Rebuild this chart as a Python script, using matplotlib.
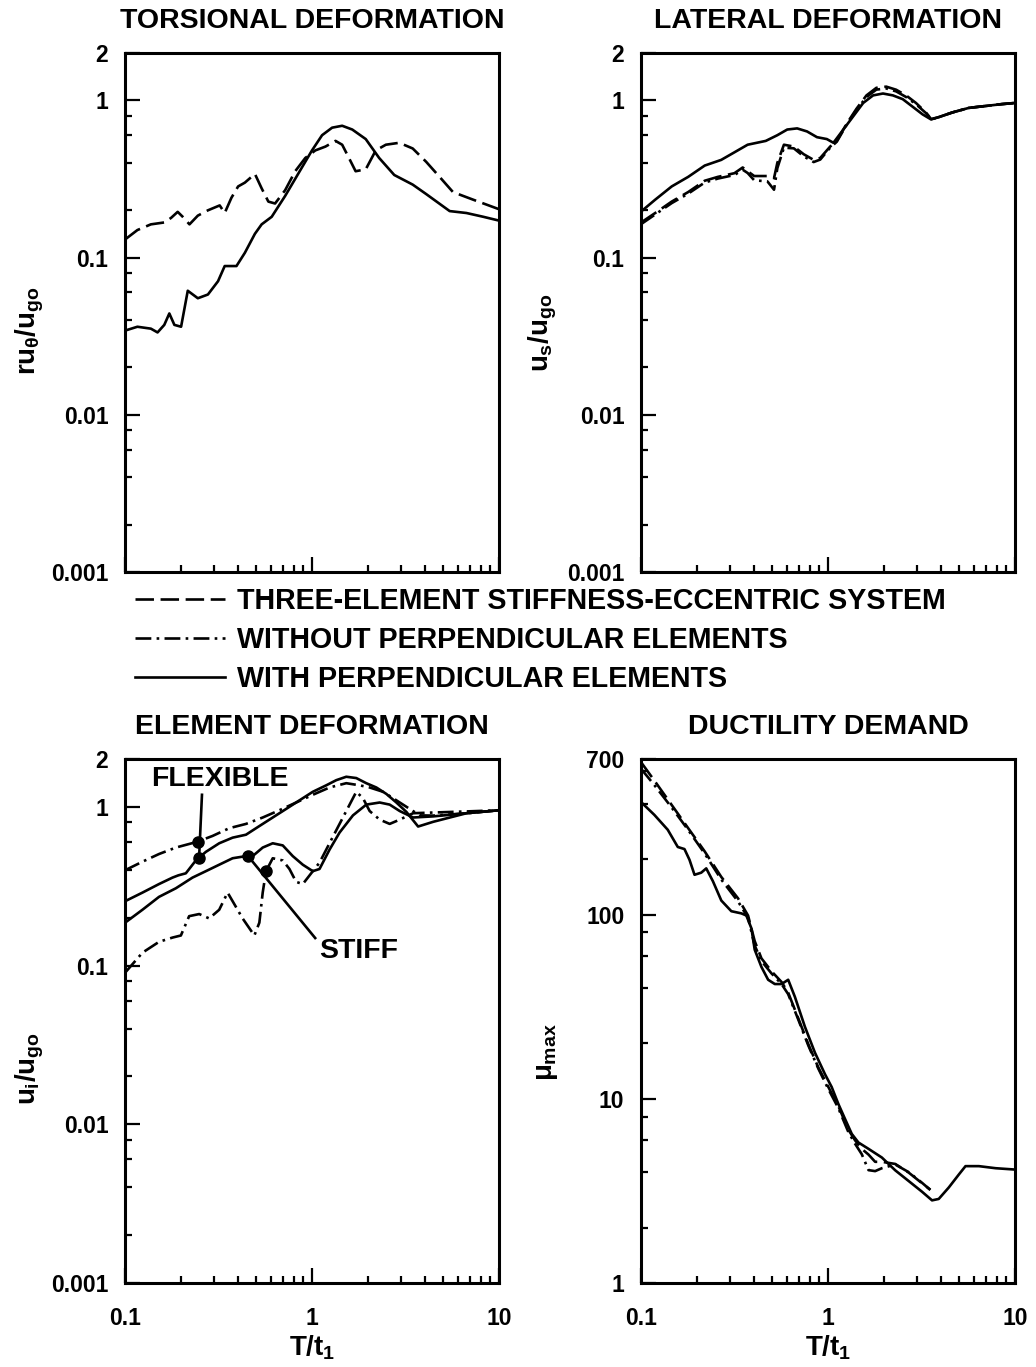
import numpy as np
import matplotlib
matplotlib.use("Agg")
import matplotlib.pyplot as plt
from matplotlib.ticker import FixedLocator, FixedFormatter, NullFormatter

# ---------------- data ----------------
# Torsional deformation
tl_solid_T = [0.1, 0.1165, 0.1375, 0.1493, 0.1622, 0.1726, 0.1837, 0.1995, 0.2166, 0.2452,
              0.2776, 0.3144, 0.3413, 0.3945, 0.4375, 0.4951, 0.5379, 0.609, 0.7184, 0.8476,
              1.0, 1.132, 1.281, 1.450, 1.642, 1.938, 2.286, 2.754, 3.456, 4.077,
              5.447, 6.697, 8.234, 10.0]
tl_solid_v = [0.0343, 0.0363, 0.0353, 0.0334, 0.0373, 0.0441, 0.0373, 0.0363, 0.0615, 0.0551,
              0.0582, 0.0707, 0.0883, 0.0883, 0.1072, 0.1416, 0.1626, 0.1817, 0.2466, 0.3443,
              0.4803, 0.600, 0.670, 0.689, 0.652, 0.567, 0.430, 0.335, 0.291, 0.2535,
              0.1975, 0.192, 0.1817, 0.1718]
tl_dash_T = [0.1, 0.1165, 0.1375, 0.1622, 0.1763, 0.1913, 0.2035, 0.2212, 0.2452, 0.2776,
             0.3209, 0.3413, 0.3707, 0.4027, 0.4375, 0.4951, 0.5379, 0.5843, 0.6346, 0.7184,
             0.813, 0.921, 1.042, 1.18, 1.336, 1.450, 1.576, 1.711, 1.938, 2.193,
             2.483, 2.929, 3.456, 4.077, 4.811, 5.675, 7.273, 10.0]
tl_dash_v = [0.1302, 0.1496, 0.1626, 0.1672, 0.1787, 0.1953, 0.1817, 0.1626, 0.1848, 0.1997,
             0.2146, 0.192, 0.2399, 0.2834, 0.2996, 0.3404, 0.2756, 0.2269, 0.2207, 0.2681,
             0.354, 0.430, 0.4803, 0.508, 0.552, 0.522, 0.430, 0.354, 0.364, 0.4803,
             0.522, 0.537, 0.494, 0.4066, 0.326, 0.2608, 0.2334, 0.203]

# Lateral deformation
tr_solid_T = [0.1, 0.1191, 0.146, 0.1788, 0.2191, 0.2685, 0.3159, 0.3717, 0.4648, 0.5358,
              0.6053, 0.6838, 0.7726, 0.8729, 0.9858, 1.0693, 1.208, 1.365, 1.542, 1.742,
              1.968, 2.223, 2.511, 2.837, 3.205, 3.547, 3.926, 4.62, 5.66, 6.94, 8.5, 10.0]
tr_solid_v = [0.196, 0.2334, 0.2834, 0.326, 0.3846, 0.418, 0.467, 0.522, 0.552, 0.600,
              0.652, 0.663, 0.634, 0.583, 0.567, 0.537, 0.652, 0.792, 0.962, 1.075,
              1.105, 1.075, 1.017, 0.910, 0.814, 0.7575, 0.783, 0.837, 0.895, 0.920, 0.946, 0.962]
tr_other_T = [0.1, 0.1191, 0.146, 0.1788, 0.2191, 0.2578, 0.3159, 0.3498, 0.3717, 0.4032,
              0.4744, 0.5145, 0.5358, 0.5811, 0.6566, 0.7418, 0.8381, 0.909, 1.027, 1.114,
              1.258, 1.421, 1.606, 1.814, 2.049, 2.314, 2.615, 2.954, 3.338, 3.57,
              3.926, 4.62, 5.66, 6.94, 8.5, 10.0]
tr_dash_v = [0.167, 0.192, 0.227, 0.261, 0.308, 0.326, 0.344, 0.374, 0.354, 0.33,
             0.33, 0.32, 0.40, 0.522, 0.508, 0.454, 0.418, 0.43, 0.508, 0.552,
             0.709, 0.885, 1.075, 1.201, 1.222, 1.168, 1.075, 0.962, 0.837, 0.7575,
             0.783, 0.837, 0.895, 0.920, 0.946, 0.962]
tr_dashdot_v = [0.163, 0.188, 0.222, 0.255, 0.300, 0.318, 0.335, 0.362, 0.345, 0.31,
                0.305, 0.27, 0.37, 0.50, 0.495, 0.44, 0.405, 0.42, 0.50, 0.545,
                0.70, 0.87, 1.05, 1.17, 1.19, 1.14, 1.05, 0.945, 0.83, 0.7575,
                0.783, 0.837, 0.895, 0.920, 0.946, 0.962]

# Element deformation (flexible / stiff element)
bl_flex_solid_T = [0.1, 0.124, 0.152, 0.1795, 0.193, 0.2115, 0.2392, 0.2707, 0.319, 0.3762,
                   0.4436, 0.523, 0.6166, 0.727, 0.857, 1.01, 1.191, 1.348, 1.525, 1.725,
                   1.951, 2.208, 2.498, 2.827, 3.198, 3.694, 4.445, 5.461, 6.71, 10.0]
bl_flex_solid_v = [0.254, 0.288, 0.326, 0.358, 0.37, 0.381, 0.459, 0.52, 0.589, 0.639,
                   0.667, 0.756, 0.856, 0.969, 1.098, 1.243, 1.365, 1.471, 1.546, 1.517,
                   1.408, 1.323, 1.205, 1.064, 0.928, 0.751, 0.804, 0.856, 0.911, 0.951]
bl_flex_dashdot_T = [0.1, 0.124, 0.152, 0.187, 0.2412, 0.2938, 0.361, 0.4436, 0.545, 0.669,
                     0.8225, 1.01, 1.241, 1.525, 1.798, 2.034, 2.398, 2.827, 3.333, 3.771,
                     4.445, 6.71, 10.0]
bl_flex_dashdot_v = [0.398, 0.451, 0.504, 0.5535, 0.6, 0.655, 0.733, 0.78, 0.856, 0.951,
                     1.064, 1.19, 1.323, 1.408, 1.365, 1.323, 1.243, 1.098, 0.969, 0.883,
                     0.88, 0.91, 0.951]
bl_stiff_solid_T = [0.1, 0.124, 0.152, 0.187, 0.2296, 0.2707, 0.319, 0.3762, 0.4436, 0.4816,
                    0.545, 0.6166, 0.6977, 0.789, 0.893, 1.01, 1.097, 1.241, 1.404, 1.656,
                    1.951, 2.301, 2.603, 2.946, 3.473, 4.445, 6.71, 10.0]
bl_stiff_solid_v = [0.186, 0.2246, 0.2707, 0.3066, 0.358, 0.393, 0.4316, 0.474, 0.489, 0.489,
                    0.5535, 0.589, 0.571, 0.489, 0.4316, 0.393, 0.4057, 0.537, 0.688, 0.883,
                    1.032, 1.064, 1.032, 0.94, 0.856, 0.87, 0.911, 0.951]
bl_stiff_dashdot_T = [0.1, 0.124, 0.152, 0.1795, 0.199, 0.2203, 0.2493, 0.282, 0.319, 0.3537,
                      0.3762, 0.4256, 0.4917, 0.523, 0.545, 0.5677, 0.6166, 0.6977, 0.7575, 0.8225,
                      0.893, 0.99, 1.097, 1.293, 1.525, 1.725, 1.873, 2.034, 2.301, 2.603,
                      2.946, 3.473, 4.445, 6.71, 10.0]
bl_stiff_dashdot_v = [0.09, 0.1205, 0.141, 0.15, 0.1546, 0.2046, 0.211, 0.198, 0.2245, 0.288,
                      0.2543, 0.198, 0.1546, 0.1863, 0.288, 0.393, 0.474, 0.459, 0.4057, 0.3365,
                      0.326, 0.381, 0.445, 0.647, 0.94, 1.243, 1.133, 0.94, 0.83, 0.78,
                      0.83, 0.911, 0.92, 0.935, 0.951]

# Ductility demand
br_solid_T = [0.1, 0.1179, 0.139, 0.1573, 0.1708, 0.1817, 0.1933, 0.2099, 0.2233, 0.2424,
              0.2688, 0.3041, 0.3441, 0.366, 0.3894, 0.4056, 0.4406, 0.4785, 0.5195, 0.5643,
              0.6125, 0.6651, 0.7527, 0.8516, 0.9636, 1.046, 1.136, 1.233, 1.340, 1.455,
              1.647, 1.941, 2.289, 2.698, 3.183, 3.601, 3.909, 4.424, 5.006, 5.436,
              6.411, 7.875, 10.0]
br_solid_v = [409, 348, 289, 233, 227, 198.5, 164.6, 169, 178.3, 151.9,
              119.3, 104.4, 101.6, 98.9, 84.3, 64.5, 52.0, 44.3, 42.0, 42.0,
              44.3, 35.8, 24.6, 17.8, 13.6, 11.6, 9.38, 7.78, 6.45, 5.79,
              5.35, 4.80, 4.09, 3.58, 3.13, 2.81, 2.86, 3.30, 3.88, 4.31,
              4.31, 4.20, 4.13]
br_other_T = [0.1, 0.1179, 0.1449, 0.178, 0.2188, 0.2688, 0.3303, 0.3737, 0.4056, 0.4406,
              0.4985, 0.5643, 0.6125, 0.693, 0.7844, 0.8875, 1.004, 1.136, 1.285, 1.396,
              1.516, 1.647, 1.787, 1.941, 2.289, 2.698, 3.183, 3.527]
br_dash_v = [673, 534.5, 398, 296.6, 220.9, 160.2, 122.6, 98.9, 71.8, 57.9,
             49.3, 43.1, 37.7, 27.4, 19.8, 14.8, 11.6, 9.13, 6.80, 5.95,
             5.35, 4.98, 4.55, 4.55, 4.43, 3.98, 3.48, 3.21]
br_dashdot_v = [620, 505, 385, 290, 215, 155, 118, 96, 68, 56,
                48, 42, 37, 27, 19.5, 14.6, 11.3, 8.9, 6.6, 5.7,
                5.0, 4.1, 4.05, 4.2, 4.4, 4.0, 3.5, 3.2]

x_ticks = [0.1, 1, 10]
x_tick_labels = ["0.1", "1", "10"]
disp_ticks = [0.001, 0.01, 0.1, 1, 2]
disp_tick_labels = ["0.001", "0.01", "0.1", "1", "2"]
duct_ticks = [1, 10, 100, 700]
duct_tick_labels = ["1", "10", "100", "700"]

legend_labels = ["THREE-ELEMENT STIFFNESS-ECCENTRIC SYSTEM",
                 "WITHOUT PERPENDICULAR ELEMENTS",
                 "WITH PERPENDICULAR ELEMENTS"]
titles = ["TORSIONAL DEFORMATION", "LATERAL DEFORMATION",
          "ELEMENT DEFORMATION", "DUCTILITY DEMAND"]

# ---------------- styling ----------------
plt.rcParams["font.family"] = ["Liberation Sans", "DejaVu Sans"]
plt.rcParams["font.weight"] = "bold"
plt.rcParams["mathtext.fontset"] = "custom"
plt.rcParams["mathtext.rm"] = "Liberation Sans:bold"
plt.rcParams["mathtext.it"] = "Liberation Sans:bold"
plt.rcParams["mathtext.bf"] = "Liberation Sans:bold"
plt.rcParams["mathtext.sf"] = "Liberation Sans:bold"

LW = 1.9
DASH = (0, (7, 2.5))
DASHDOT = (0, (6, 2, 1, 2))
INK = "black"
TITLE_SIZE = 20.5
LABEL_SIZE = 20

W, H = 1036, 1367
fig = plt.figure(figsize=(W / 100, H / 100), dpi=100)


def box(l, t, r, b):
    return [l / W, 1 - b / H, (r - l) / W, (b - t) / H]


ax_tl = fig.add_axes(box(125, 53, 499, 572))
ax_tr = fig.add_axes(box(641, 53, 1015, 572))
ax_bl = fig.add_axes(box(125, 759, 499, 1283))
ax_br = fig.add_axes(box(641, 759, 1015, 1283))


def style_axis(ax, ylim, yticks, ylabels, show_x):
    ax.set_xscale("log")
    ax.set_yscale("log")
    ax.set_xlim(0.1, 10)
    ax.set_ylim(*ylim)
    ax.xaxis.set_major_locator(FixedLocator(x_ticks))
    ax.xaxis.set_minor_locator(FixedLocator([m * d for d in (0.1, 1) for m in range(2, 10)]))
    if show_x:
        ax.xaxis.set_major_formatter(FixedFormatter(x_tick_labels))
    else:
        ax.xaxis.set_major_formatter(NullFormatter())
    ax.xaxis.set_minor_formatter(NullFormatter())
    ax.yaxis.set_major_locator(FixedLocator(yticks))
    ax.yaxis.set_major_formatter(FixedFormatter(ylabels))
    decades = [10.0 ** k for k in range(-3, 3)]
    minors = [m * d for d in decades for m in (2, 4, 6, 8) if ylim[0] < m * d < ylim[1]]
    ax.yaxis.set_minor_locator(FixedLocator(minors))
    ax.yaxis.set_minor_formatter(NullFormatter())
    ax.tick_params(which="both", direction="in", top=False, right=False,
                   width=1.6, colors=INK, labelsize=16.5)
    ax.tick_params(which="major", length=11)
    ax.tick_params(which="minor", length=5)
    ax.tick_params(axis="y", pad=12)
    ax.tick_params(axis="x", pad=17)
    for s in ax.spines.values():
        s.set_linewidth(2.2)
        s.set_color(INK)
    for lab in ax.get_xticklabels() + ax.get_yticklabels():
        lab.set_fontweight("bold")


def add_title(ax, text):
    ax.annotate(text, xy=(0.5, 1.0), xycoords="axes fraction",
                xytext=(0, 32), textcoords="offset pixels",
                ha="center", va="center", fontsize=TITLE_SIZE, fontweight="bold")


# Torsional deformation
ax_tl.plot(tl_dash_T, tl_dash_v, color=INK, lw=LW, linestyle=DASH)
ax_tl.plot(tl_solid_T, tl_solid_v, color=INK, lw=LW)
style_axis(ax_tl, (0.001, 2), disp_ticks, disp_tick_labels, False)
ax_tl.set_ylabel(r"$ru_{\theta}/u_{go}$", fontsize=LABEL_SIZE, va="center")
ax_tl.yaxis.set_label_coords(-0.255, 0.465)

# Lateral deformation
h_dash, = ax_tr.plot(tr_other_T, tr_dash_v, color=INK, lw=LW, linestyle=DASH)
h_dd, = ax_tr.plot(tr_other_T, tr_dashdot_v, color=INK, lw=LW, linestyle=DASHDOT)
h_solid, = ax_tr.plot(tr_solid_T, tr_solid_v, color=INK, lw=LW)
style_axis(ax_tr, (0.001, 2), disp_ticks, disp_tick_labels, False)
ax_tr.set_ylabel(r"$u_{s}/u_{go}$", fontsize=LABEL_SIZE, va="center")
ax_tr.yaxis.set_label_coords(-0.262, 0.46)

# Element deformation
ax_bl.plot(bl_flex_dashdot_T, bl_flex_dashdot_v, color=INK, lw=LW, linestyle=DASHDOT)
ax_bl.plot(bl_stiff_dashdot_T, bl_stiff_dashdot_v, color=INK, lw=LW, linestyle=DASHDOT)
ax_bl.plot(bl_flex_solid_T, bl_flex_solid_v, color=INK, lw=LW)
ax_bl.plot(bl_stiff_solid_T, bl_stiff_solid_v, color=INK, lw=LW)
style_axis(ax_bl, (0.001, 2), disp_ticks, disp_tick_labels, True)
ax_bl.set_ylabel(r"$u_{i}/u_{go}$", fontsize=LABEL_SIZE, va="center")
ax_bl.yaxis.set_label_coords(-0.254, 0.41)


def on_curve(Ts, vs, t):
    return 10 ** np.interp(np.log10(t), np.log10(Ts), np.log10(vs))


# markers identifying the flexible and stiff element curves
flex_dd = (0.245, on_curve(bl_flex_dashdot_T, bl_flex_dashdot_v, 0.245))
flex_s = (0.249, on_curve(bl_flex_solid_T, bl_flex_solid_v, 0.249))
stiff_s = (0.455, on_curve(bl_stiff_solid_T, bl_stiff_solid_v, 0.455))
stiff_dd = (0.569, on_curve(bl_stiff_dashdot_T, bl_stiff_dashdot_v, 0.569))
ax_bl.plot([0.258, flex_s[0]], [1.19, flex_s[1]], color=INK, lw=1.9)
ax_bl.plot([stiff_s[0], 1.04], [stiff_s[1], 0.149], color=INK, lw=1.9)
for p in (flex_dd, flex_s, stiff_s, stiff_dd):
    ax_bl.plot(*p, "o", color=INK, markersize=8)
ax_bl.text(0.322, 1.5, "FLEXIBLE", ha="center", va="center", fontsize=TITLE_SIZE, fontweight="bold")
ax_bl.text(1.78, 0.123, "STIFF", ha="center", va="center", fontsize=TITLE_SIZE, fontweight="bold")

# Ductility demand
ax_br.plot(br_other_T, br_dash_v, color=INK, lw=LW, linestyle=DASH)
ax_br.plot(br_other_T, br_dashdot_v, color=INK, lw=LW, linestyle=DASHDOT)
ax_br.plot(br_solid_T, br_solid_v, color=INK, lw=LW)
style_axis(ax_br, (1, 700), duct_ticks, duct_tick_labels, True)
ax_br.set_ylabel(r"$\mu_{max}$", fontsize=LABEL_SIZE, va="center")
ax_br.yaxis.set_label_coords(-0.25, 0.44)

for ax in (ax_bl, ax_br):
    ax.set_xlabel(r"$T/t_{1}$", fontsize=LABEL_SIZE)
    ax.xaxis.set_label_coords(0.5, -0.096)
    ax.xaxis.label.set_va("top")

for ax, t in zip((ax_tl, ax_tr, ax_bl, ax_br), titles):
    add_title(ax, t)

fig.legend([h_dash, h_dd, h_solid], legend_labels, loc="upper left",
           bbox_to_anchor=(135 / W, 1 - 587 / H), frameon=False,
           handlelength=3.15, handletextpad=0.42, labelspacing=0.38,
           borderpad=0, borderaxespad=0,
           prop={"weight": "bold", "size": 20.6})

fig.savefig("out.png", dpi=100, facecolor="white")
